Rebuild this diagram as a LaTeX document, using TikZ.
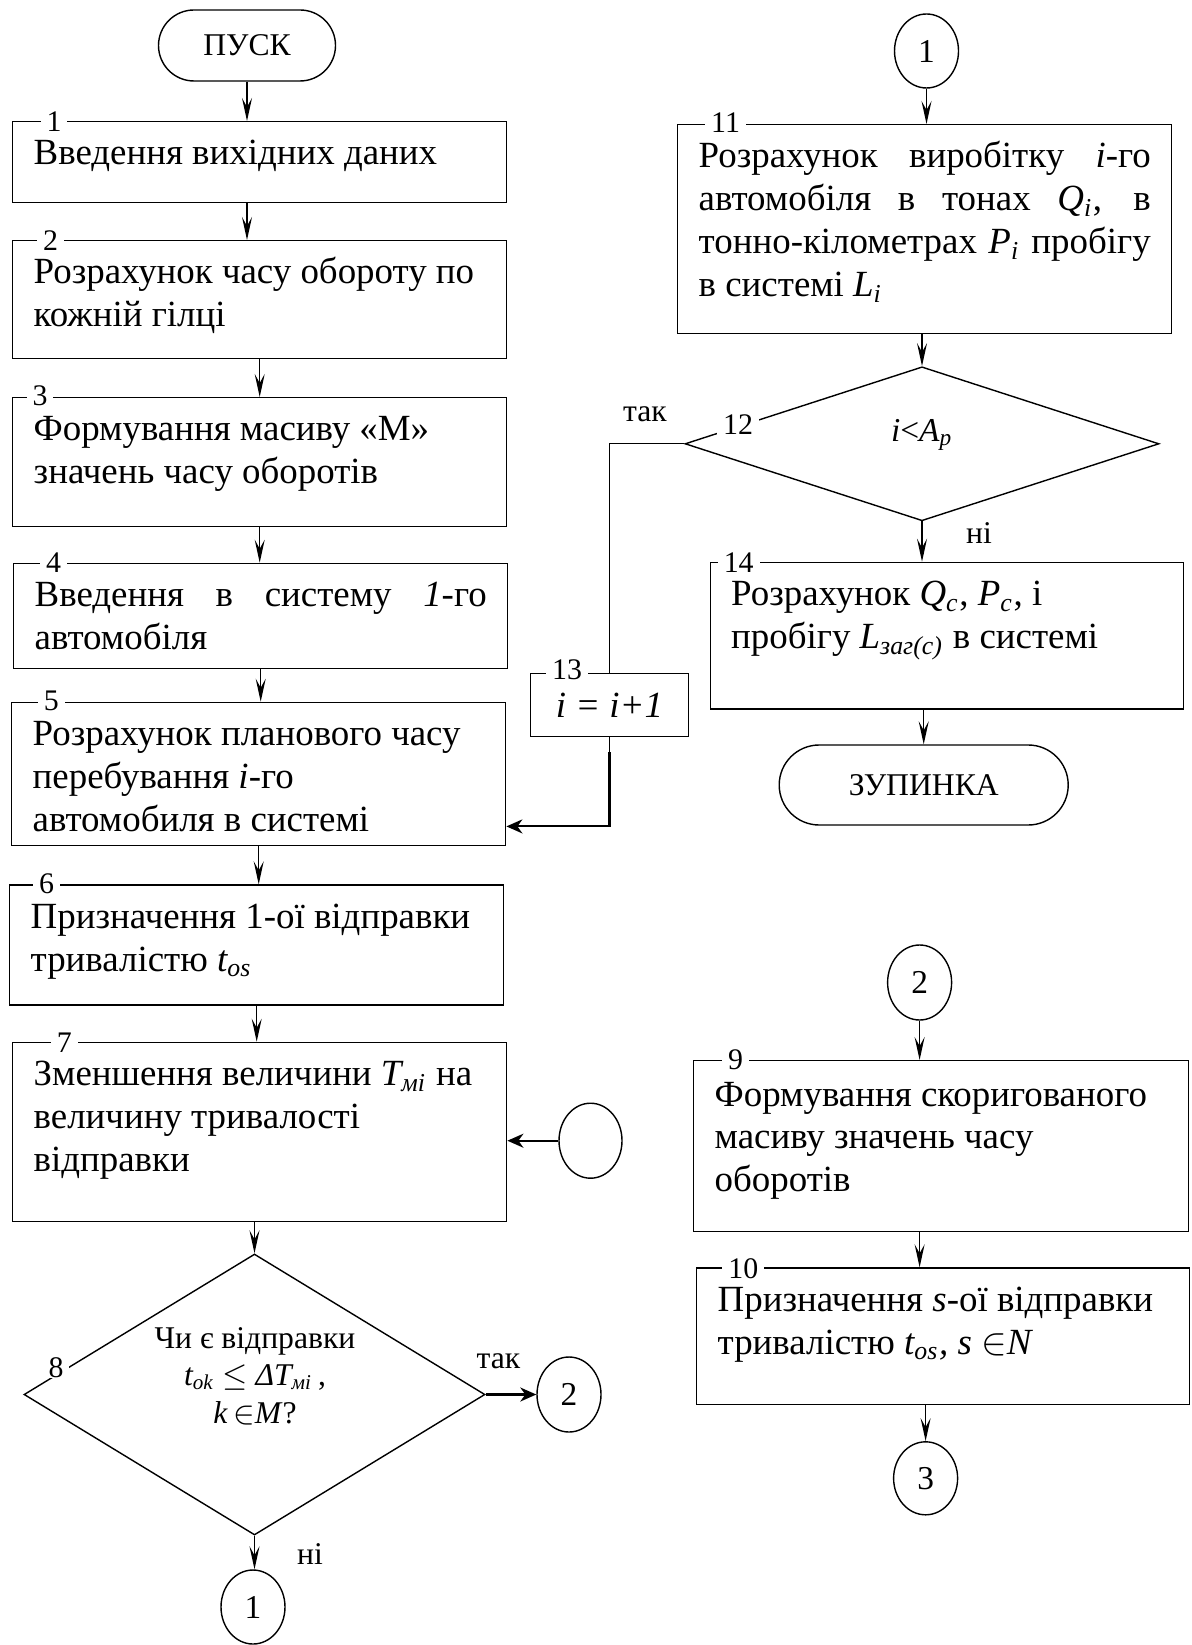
\documentclass[tikz,border=0pt]{standalone}
\usepackage{fontspec}
\setmainfont{Liberation Serif}
\usetikzlibrary{shapes.geometric,shapes.misc,arrows.meta}

\tikzset{
  blk/.style={draw, anchor=north west, inner sep=0, minimum width=49.4mm,
    font=\fontsize{10.5pt}{12.2pt}\selectfont},
  txt/.style={anchor=base west, inner sep=0, font=\fontsize{10.5pt}{12.2pt}\selectfont},
  num/.style={fill=white, inner xsep=0.6mm, inner ysep=0pt, font=\fontsize{8.5pt}{9pt}\selectfont},
  term/.style={draw, rounded rectangle, inner sep=0, font=\fontsize{9pt}{10pt}\selectfont},
  conn/.style={draw, ellipse, minimum width=6.4mm, minimum height=7.5mm, inner sep=0,
    font=\fontsize{9.5pt}{10pt}\selectfont},
  dec/.style={draw, diamond, inner sep=0},
  lbl/.style={inner sep=0, font=\fontsize{9pt}{10pt}\selectfont},
  arr/.style={-{Stealth[length=2.3mm, width=1mm, inset=0.9mm]}},
  arrb/.style={line width=0.6pt, -{Stealth[length=1.6mm, width=1.4mm, inset=0.5mm]}}
}

\begin{document}
\begin{tikzpicture}[x=0.1mm, y=-0.1mm, line width=0.4pt]
\useasboundingbox (0,0) rectangle (1192,1645);

% left column
\node[term, minimum width=17.7mm, minimum height=7.1mm] (pusk) at (247,45.5) {ПУСК};

\node[blk, minimum height=8.1mm] (b1) at (12,121) {};
\node[blk, minimum height=11.8mm] (b2) at (12,240) {};
\node[blk, minimum height=12.9mm] (b3) at (12,397) {};
\node[blk, minimum height=10.5mm] (b4) at (13,562.7) {};
\node[blk, minimum height=14.33mm] (b5) at (11,701.7) {};
\node[blk, minimum height=12mm] (b6) at (9,884.3) {};
\node[blk, minimum height=17.9mm] (b7) at (12,1041.7) {};

\node[txt] (t1) at ([shift={(21,44)}]b1.north west) {\parbox[t]{46mm}{Введення вихідних даних}};
\node[txt] (t2) at ([shift={(21,44)}]b2.north west) {\parbox[t]{46mm}{Розрахунок часу обороту по\\ кожній гілці}};
\node[txt] (t3) at ([shift={(21,44)}]b3.north west) {\parbox[t]{46mm}{Формування масиву «М»\\ значень часу оборотів}};
\node[txt] (t4) at ([shift={(21,44)}]b4.north west) {\parbox[t]{45.2mm}{Введення в систему \textit{1}-го\linebreak автомобіля}};
\node[txt] (t5) at ([shift={(21,44)}]b5.north west) {\parbox[t]{46mm}{Розрахунок планового часу\\ перебування \textit{i}-го\\ автомобиля в системі}};
\node[txt] (t6) at ([shift={(21,44)}]b6.north west) {\parbox[t]{46mm}{Призначення 1-ої відправки\\ тривалістю \textit{t\textsubscript{os}}}};
\node[txt] (t7) at ([shift={(21,44)}]b7.north west) {\parbox[t]{46mm}{Зменшення величини \textit{T\textsubscript{мі}} на\\ величину тривалості\\ відправки}};

\node[num] (n1) at (54,122) {1};
\node[num] (n2) at (50.7,241) {2};
\node[num] (n3) at (40,396) {3};
\node[num] (n4) at (53.6,563) {4};
\node[num] (n5) at (51.3,700.8) {5};
\node[num] (n6) at (46.6,884) {6};
\node[num] (n7) at (64.3,1043) {7};

\node[dec, minimum width=46.1mm, minimum height=28.1mm] (d8) at (254.5,1394.5) {};
\node[lbl, anchor=base, font=\fontsize{9pt}{10.8pt}\selectfont] (q8) at (255,1348)
  {\parbox[t]{30mm}{\centering Чи є відправки\\ \textit{t\textsubscript{ok}} $\le$ \textit{ΔT\textsubscript{мі}}\,,\\ \textit{k}\,$\in$\textit{M}?}};
\node[num] (n8) at (56,1368) {8};
\node[lbl] (yes8) at (498.5,1361) {так};
\node[lbl] (no8) at (310,1554) {ні};

\node[conn, minimum height=7.4mm] (cout1) at (253,1607) {1};
\node[conn] (cout2) at (569,1394.5) {2};
\node[conn, minimum width=6.3mm] (cin0) at (590.5,1140.7) {};

\draw[arr] (pusk.south) -- (pusk.south |- b1.north);
\draw[arr] (b1.south -| pusk.south) -- (b2.north -| pusk.south);
\draw[arr] (b2.south) -- (b2.south |- b3.north);
\draw[arr] (b3.south) -- (b3.south |- b4.north);
\draw[arr] (b4.south) -- (b4.south |- b5.north);
\draw[arr] (b5.south) -- (b5.south |- b6.north);
\draw[arr] (b6.south) -- (b6.south |- b7.north);
\draw[arr] (b7.south -| d8.north) -- (d8.north);
\draw[arr] (d8.south) -- (d8.south |- cout1.north);
\draw[arrb] (d8.east) -- (cout2.west);
\draw[arrb] (cin0.west) -- (cin0.west -| b7.east);

% right column
\node[conn, minimum height=7.4mm] (cin1) at (926.5,51) {1};
\node[blk, minimum height=20.87mm] (b11) at (677,124) {};
\node[txt] (t11) at ([shift={(21,44)}]b11.north west) {\parbox[t]{45.2mm}{Розрахунок виробітку \textit{i}-го\linebreak автомобіля в тонах \textit{Q\textsubscript{i}}, в\linebreak тонно-кілометрах \textit{P\textsubscript{i}} пробігу\linebreak в системі \textit{L\textsubscript{i}}}};
\node[num] (n11) at (725.6,123) {11};

\node[dec, minimum width=47.4mm, minimum height=15.4mm] (d12) at (922,443.8) {};
\node[lbl, anchor=base, font=\fontsize{9.5pt}{11pt}\selectfont] (q12) at (922,441.7) {\textit{i}<\textit{A\textsubscript{p}}};
\node[num] (n12) at (738,425) {12};
\node[lbl] (yes12) at (645,414) {так};
\node[lbl] (no12) at (979,533) {ні};

\node[blk, minimum width=15.75mm, minimum height=6.33mm] (b13) at (530,672.7) {\textit{i = i+1}};
\node[num] (n13) at (567,670) {13};

\node[blk, minimum width=47.35mm, minimum height=14.66mm] (b14) at (709.5,561.7) {};
\node[txt] (t14) at ([shift={(21,44)}]b14.north west) {\parbox[t]{44mm}{Розрахунок \textit{Q\textsubscript{c}}, \textit{P\textsubscript{c}}, і\\ пробігу \textit{L\textsubscript{заг(c)}} в системі}};
\node[num] (n14) at (738.7,562.5) {14};

\node[term, minimum width=28.9mm, minimum height=8mm] (stop) at (923.7,785) {ЗУПИНКА};

\draw[arr] (cin1.south) -- (cin1.south |- b11.north);
\draw[arr] (b11.south -| d12.north) -- (d12.north);
\draw[arr] (d12.south) -- (d12.south |- b14.north);
\draw[arr] (b14.south -| stop.north) -- (stop.north);
\draw (d12.west) -| (b13.north);
\draw (b13.south) -- ++(0,-1.5mm) coordinate (k13);
\draw[arrb] (k13) |- ([yshift=2mm]b5.south east);

\node[conn] (cin2) at (919.6,982.5) {2};
\node[blk, minimum width=49.45mm, minimum height=17.07mm] (b9) at (693,1060) {};
\node[txt] (t9) at ([shift={(21,46)}]b9.north west) {\parbox[t]{46mm}{Формування скоригованого\\ масиву значень часу\\ оборотів}};
\node[num] (n9) at (735.5,1060) {9};

\node[blk, minimum width=49.3mm, minimum height=13.67mm] (b10) at (696,1267.3) {};
\node[txt] (t10) at ([shift={(21,44)}]b10.north west) {\parbox[t]{46mm}{Призначення \textit{s}-ої відправки\\ тривалістю \textit{t\textsubscript{os}, s} $\in$\textit{N}}};
\node[num] (n10) at (743.4,1268.3) {10};

\node[conn, minimum height=7.3mm] (cout3) at (925.6,1478.3) {3};

\draw[arr] (cin2.south) -- (cin2.south |- b9.north);
\draw[arr] (b9.south -| cin2.south) -- (b10.north -| cin2.south);
\draw[arr] (b10.south -| cout3.north) -- (cout3.north);

\end{tikzpicture}
\end{document}
